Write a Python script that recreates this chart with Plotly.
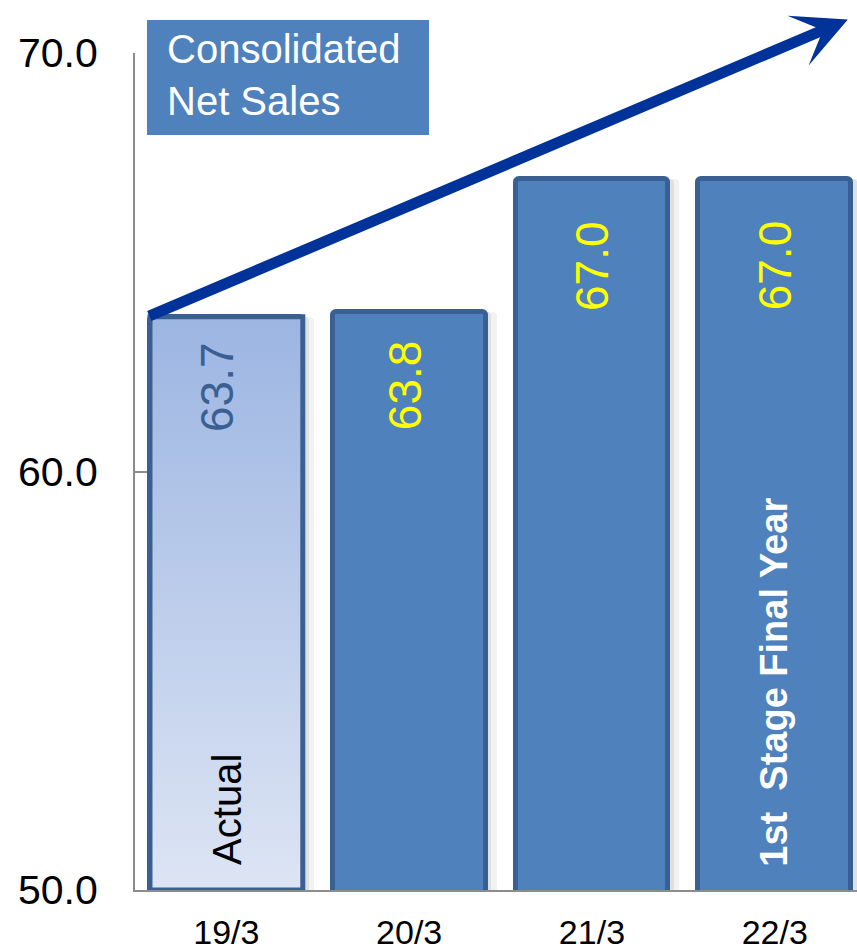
import plotly.graph_objects as go

# ---- data ----
categories = ["19/3", "20/3", "21/3", "22/3"]
net_sales = [63.7, 63.8, 67.0, 67.0]
value_labels = ["63.7", "63.8", "67.0", "67.0"]
y_ticks = [50.0, 60.0, 70.0]
title_text = "Consolidated<br>Net Sales"
actual_label = "Actual"
final_label = "1st\u00a0\u00a0Stage Final Year"

# ---- style ----
FONT = "Liberation Sans, Arial, Helvetica, sans-serif"
Y_MIN, Y_MAX = 50, 70
BAR_W = 0.836
BAR_FILL = "#4F81BD"
BAR_EDGE = "#3A6093"
AXIS_GRAY = "#8C8C8C"
ARROW = "#003399"
label_colors = ["#3A6093", "#FFFF00", "#FFFF00", "#FFFF00"]
label_drop_px = [70, 73, 87, 87]      # label centre below bar top
label_dx_px = [-10, -3.5, -0.5, 0]

W, H = 857, 950
ML, MR, MT, MB = 135, 0, 53, 60
PW, PH = W - ML - MR, H - MT - MB


def px_x(p):
    return (p - ML) / PW


def px_y(p):
    return (H - MB - p) / PH


idx = list(range(len(categories)))

fig = go.Figure()

# soft shadows
for off, alpha in [(0.06, 0.05), (0.032, 0.07)]:
    fig.add_trace(go.Bar(
        x=idx, y=net_sales, width=BAR_W, offset=-BAR_W / 2 + off,
        marker=dict(color=f"rgba(0,0,0,{alpha})", line=dict(width=0), cornerradius=4),
        hoverinfo="skip", showlegend=False))

# main bars
fig.add_trace(go.Bar(
    x=idx, y=net_sales, width=BAR_W, offset=-BAR_W / 2,
    marker=dict(color=BAR_FILL, line=dict(color=BAR_EDGE, width=5), cornerradius=4),
    showlegend=False, name="Net Sales"))

# first bar (actual) with gradient fill
x0 = idx[0] - BAR_W / 2
x1 = idx[0] + BAR_W / 2
v0 = net_sales[0]
fig.add_trace(go.Scatter(
    x=[x0, x1, x1, x0, x0], y=[Y_MIN, Y_MIN, v0, v0, Y_MIN],
    mode="lines", fill="toself",
    fillgradient=dict(type="vertical", colorscale=[[0, "#DDE5F4"], [1, "#9CB5E2"]]),
    line=dict(color=BAR_EDGE, width=5), hoverinfo="skip", showlegend=False))

annotations = []
for i, (v, t) in enumerate(zip(net_sales, value_labels)):
    annotations.append(dict(
        x=idx[i], y=v, xref="x", yref="y", text=t, showarrow=False,
        textangle=-90, xanchor="center", yanchor="middle",
        xshift=label_dx_px[i], yshift=-label_drop_px[i],
        font=dict(family=FONT, size=46, color=label_colors[i])))

annotations.append(dict(
    x=idx[0], y=Y_MIN, xref="x", yref="y", text=actual_label, showarrow=False,
    textangle=-90, xanchor="center", yanchor="bottom", yshift=23,
    font=dict(family=FONT, size=40, color="#000000")))

annotations.append(dict(
    x=idx[3], y=Y_MIN, xref="x", yref="y", text="<b>" + final_label + "</b>",
    showarrow=False, textangle=-90, xanchor="center", yanchor="bottom",
    xshift=-1.5, yshift=21,
    font=dict(family=FONT, size=38, color="#FFFFFF")))

# trend arrow
annotations.append(dict(
    x=3.40, y=70.8, xref="x", yref="y",
    ax=-0.43, ay=net_sales[0], axref="x", ayref="y",
    text="", showarrow=True, arrowhead=3, arrowwidth=11, arrowsize=0.82,
    arrowcolor=ARROW, standoff=0))

# title box text
annotations.append(dict(
    x=px_x(165), y=px_y(25), xref="paper", yref="paper",
    text=title_text, showarrow=False, xanchor="left", yanchor="top", align="left",
    font=dict(family=FONT, size=40, color="#FFFFFF")))

fig.update_layout(
    width=W, height=H,
    margin=dict(l=ML, r=MR, t=MT, b=MB, pad=0, autoexpand=False),
    paper_bgcolor="white", plot_bgcolor="white",
    barmode="overlay", bargap=0,
    showlegend=False,
    font=dict(family=FONT, color="#000000"),
    annotations=annotations,
    shapes=[dict(type="rect", xref="paper", yref="paper",
                 x0=px_x(147), x1=px_x(429), y0=px_y(135), y1=px_y(20),
                 fillcolor=BAR_FILL, line=dict(width=0), layer="above")],
    xaxis=dict(range=[-0.5, 3.45], tickvals=idx, ticktext=categories,
               showline=True, linecolor=AXIS_GRAY, linewidth=2,
               ticks="", showgrid=False, zeroline=False, automargin=False,
               tickfont=dict(family=FONT, size=34, color="#000000"),
               ticklabelstandoff=11, fixedrange=True),
    yaxis=dict(range=[Y_MIN, Y_MAX], tickvals=y_ticks, tickformat=".1f",
               showline=True, linecolor=AXIS_GRAY, linewidth=2,
               ticks="inside", ticklen=12, tickwidth=2, tickcolor=AXIS_GRAY,
               showgrid=False, zeroline=False, automargin=False,
               tickfont=dict(family=FONT, size=41, color="#000000"),
               ticklabelstandoff=27, fixedrange=True),
)

fig.write_html(
    "out.html",
    config={"displayModeBar": False},
    post_script="document.body.style.margin='0';document.body.style.overflow='hidden';",
)
